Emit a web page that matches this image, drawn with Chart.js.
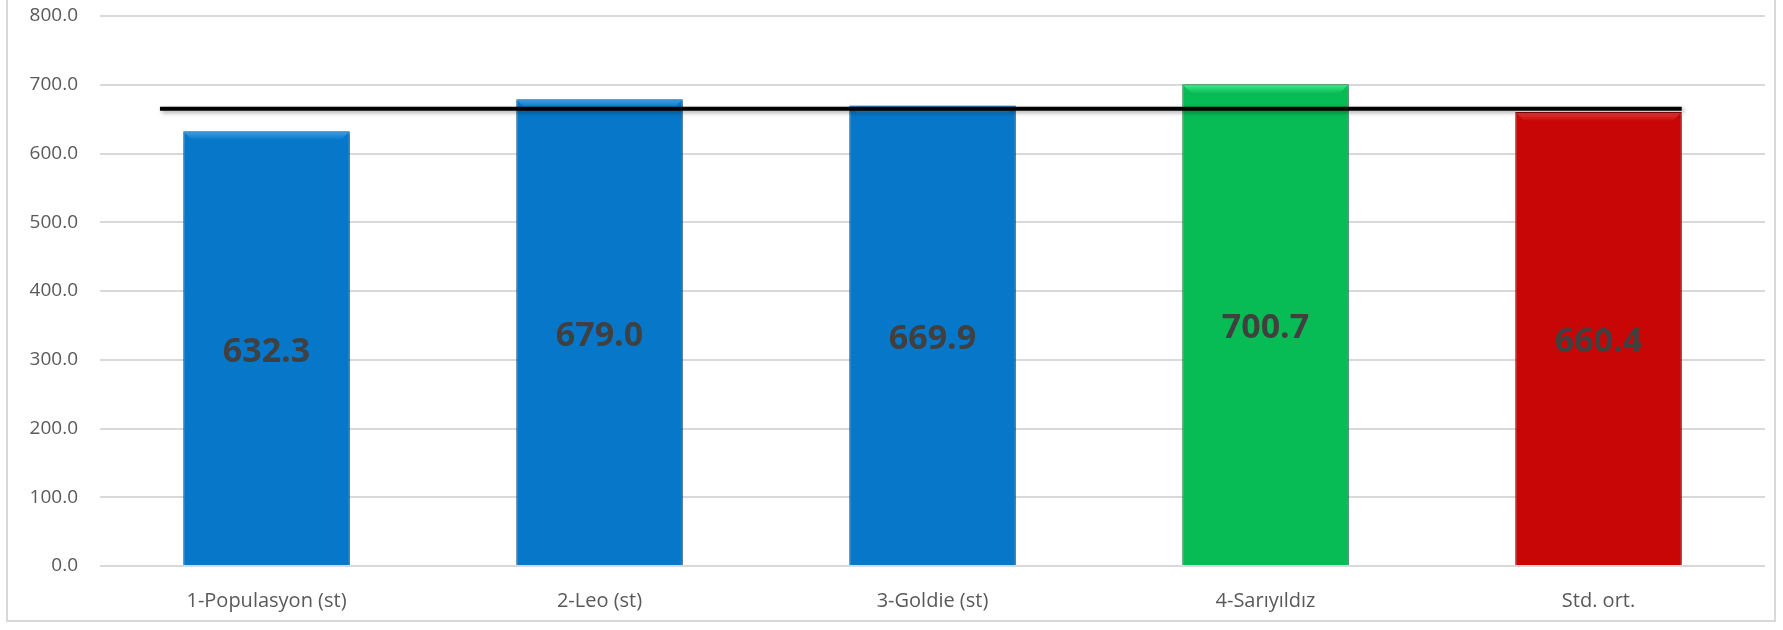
<!DOCTYPE html>
<html>
<head>
<meta charset="utf-8">
<script src="https://cdn.jsdelivr.net/npm/chart.js@4/dist/chart.umd.min.js"></script>
<style>
  html, body { margin: 0; padding: 0; background: #fff; }
  #wrap { position: relative; width: 1783px; height: 630px; overflow: hidden; }
  #frame { position: absolute; left: 6px; top: -4px; width: 1770px; height: 626px; border: 2px solid #d9d9d9; box-sizing: border-box; }
  #chart { position: absolute; left: 0; top: 0; }
</style>
</head>
<body>
<div id="wrap">
  <div id="frame"></div>
  <canvas id="chart" width="1783" height="630"></canvas>
</div>
<script>
const categories = ["1-Populasyon (st)", "2-Leo (st)", "3-Goldie (st)", "4-Sarıyıldız", "Std. ort."];
const values = [632.3, 679.0, 669.9, 700.7, 660.4];
const barColors = ["#0677c9", "#0677c9", "#0677c9", "#07bb55", "#c80606"];
const barEdges = ["#045a98", "#045a98", "#045a98", "#05863c", "#8e0404"];
const barTops = ["#3d9fe6", "#3d9fe6", "#3d9fe6", "#3ef08d", "#e84040"];
const avgLineX = [-0.32, 4.25];
const avgLineY = [665, 665];
const yTicks = [0, 100, 200, 300, 400, 500, 600, 700, 800];

const font = "'Open Sans', 'Noto Sans', sans-serif";

// shadow under bars and line
const shadowPlugin = {
    id: "shadow",
    beforeDatasetDraw(chart) {
        const ctx = chart.ctx;
        ctx.save();
        ctx.shadowColor = "rgba(0,0,0,0.35)";
        ctx.shadowBlur = 4;
        ctx.shadowOffsetX = 2;
        ctx.shadowOffsetY = 2;
    },
    afterDatasetDraw(chart, args) {
        chart.ctx.restore();
        if (args.index !== 1) return;
        // light bevel strip on top of each bar
        const ctx = chart.ctx;
        ctx.save();
        chart.getDatasetMeta(1).data.forEach((bar, i) => {
            const l = bar.x - bar.width / 2, r = bar.x + bar.width / 2, t = bar.y;
            const grad = ctx.createLinearGradient(0, t, 0, t + 9);
            grad.addColorStop(0, barTops[i]);
            grad.addColorStop(1, barColors[i]);
            ctx.fillStyle = grad;
            ctx.beginPath();
            ctx.moveTo(l + 1, t + 1);
            ctx.lineTo(r - 1, t + 1);
            ctx.lineTo(r - 10, t + 10);
            ctx.lineTo(l + 10, t + 10);
            ctx.closePath();
            ctx.fill();
        });
        ctx.restore();
    }
};

// value labels in the middle of each bar
const valueLabels = {
    id: "valueLabels",
    afterDatasetsDraw(chart) {
        const ctx = chart.ctx;
        const meta = chart.getDatasetMeta(1);
        ctx.save();
        ctx.font = "bold 34px " + font;
        ctx.fillStyle = "#404040";
        ctx.textAlign = "center";
        ctx.textBaseline = "middle";
        meta.data.forEach((bar, i) => {
            const mid = (bar.y + bar.base) / 2;
            ctx.fillText(values[i].toFixed(1), bar.x, mid + 4);
        });
        ctx.restore();
    }
};

let chartEle = document.getElementById("chart");
let chart = new Chart(chartEle, {
    data: {
        labels: categories,
        datasets: [
            {
                type: "line",
                data: avgLineX.map((x, i) => ({ x: x, y: avgLineY[i] })),
                xAxisID: "x2",
                borderColor: "#000000",
                borderWidth: 4,
                pointRadius: 0,
                fill: false,
                order: 0
            },
            {
                type: "bar",
                data: values,
                backgroundColor: barColors,
                borderColor: barEdges,
                borderWidth: 1,
                barPercentage: 0.5,
                categoryPercentage: 1,
                grouped: false,
                order: 1
            }
        ]
    },
    options: {
        responsive: false,
        animation: false,
        layout: { padding: { top: 16, right: 18, left: 0, bottom: 0 } },
        plugins: { legend: { display: false }, tooltip: { enabled: false } },
        scales: {
            x: {
                grid: { display: false, drawTicks: false },
                border: { display: false },
                ticks: { color: "#595959", font: { family: font, size: 20 }, padding: 23 },
                afterFit(scale) { scale.height = 64; }
            },
            x2: {
                type: "linear",
                display: false,
                min: -0.5,
                max: 4.5
            },
            y: {
                min: 0,
                max: 800,
                afterBuildTicks(scale) { scale.ticks = yTicks.map(v => ({ value: v })); },
                grid: { color: "#d9d9d9", lineWidth: 2, drawTicks: false },
                border: { display: false },
                ticks: {
                    color: "#595959",
                    font: { family: font, size: 19 },
                    padding: 22,
                    callback: v => v.toFixed(1)
                },
                afterFit(scale) {
                    scale.width = 100;
                    scale.paddingTop = 0;
                    scale.paddingBottom = 0;
                }
            }
        }
    },
    plugins: [shadowPlugin, valueLabels]
});
</script>
</body>
</html>
